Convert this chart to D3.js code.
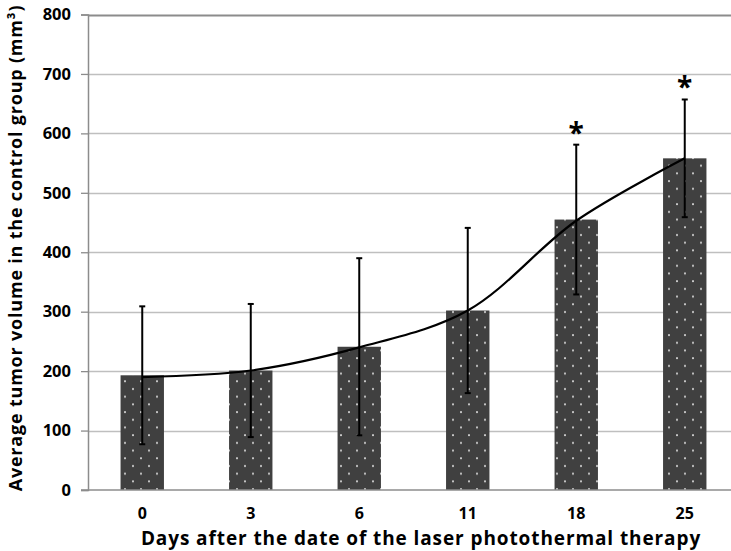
<!DOCTYPE html>
<html>
<head>
<meta charset="utf-8">
<script src="https://cdn.jsdelivr.net/npm/d3@7"></script>
<style>
  body { margin: 0; background: #fff; }
  svg { display: block; font-family: "Open Sans", sans-serif; font-weight: bold; }
</style>
</head>
<body>
<div id="chart"></div>
<script>
const days = ["0", "3", "6", "11", "18", "25"];
const meanVolume = [193, 201, 241, 302, 455, 558];
const trendVolume = [190, 201, 240, 302, 453, 558];
const errorVolume = [116, 112, 149, 139, 126, 99];
const significant = [false, false, false, false, true, true];
const yTicks = [0, 100, 200, 300, 400, 500, 600, 700, 800];

const width = 731, height = 551;
const margin = { top: 14.5, right: -8, bottom: 61, left: 88 };

let svg = d3.select("#chart")
  .append("svg")
  .attr("width", width)
  .attr("height", height);

let defs = svg.append("defs");
let pat = defs.append("pattern")
  .attr("id", "dots")
  .attr("patternUnits", "userSpaceOnUse")
  .attr("width", 16)
  .attr("height", 15.4)
  .attr("x", 129)
  .attr("y", 0);
pat.append("rect").attr("width", 16).attr("height", 15.4).attr("fill", "#404040");
pat.append("circle").attr("cx", 4).attr("cy", 4).attr("r", 1).attr("fill", "#d8d8d8");
pat.append("circle").attr("cx", 12).attr("cy", 11.7).attr("r", 1).attr("fill", "#d8d8d8");

let x = d3.scaleBand()
  .domain(days)
  .range([margin.left, width - margin.right])
  .paddingInner(0.6)
  .paddingOuter(0.3);

let y = d3.scaleLinear()
  .domain([0, 800])
  .range([height - margin.bottom, margin.top]);

// gridlines
svg.append("g")
  .selectAll("line")
  .data(yTicks.filter(d => d > 0))
  .enter()
  .append("line")
  .attr("x1", margin.left)
  .attr("x2", width)
  .attr("y1", d => Math.round(y(d)) + 0.5)
  .attr("y2", d => Math.round(y(d)) + 0.5)
  .attr("stroke", d => d === 800 ? "#8c8c8c" : "#bfbfbf")
  .attr("stroke-width", d => d === 800 ? 2 : 1.3);

// y axis
let yAxis = svg.append("g")
  .attr("transform", `translate(${margin.left},0)`)
  .call(d3.axisLeft(y).tickValues(yTicks).tickSize(7).tickPadding(10));
yAxis.select(".domain").attr("stroke", "#8c8c8c").attr("stroke-width", 1.5);
yAxis.selectAll(".tick line").attr("stroke", "#8c8c8c").attr("stroke-width", 1.3);
yAxis.selectAll(".tick text")
  .attr("fill", "#000")
  .style("font-size", "16.5px")
  .style("font-weight", "bold")
  .style("font-family", "'Open Sans', sans-serif");

// bars
svg.append("g")
  .selectAll("rect")
  .data(meanVolume)
  .enter()
  .append("rect")
  .attr("x", (d, i) => x(days[i]))
  .attr("y", d => y(d))
  .attr("width", x.bandwidth())
  .attr("height", d => y(0) - y(d))
  .attr("fill", "url(#dots)");

// x axis line
svg.append("line")
  .attr("x1", margin.left - 7)
  .attr("x2", width)
  .attr("y1", y(0))
  .attr("y2", y(0))
  .attr("stroke", "#8c8c8c")
  .attr("stroke-width", 1.5);

// x tick labels
svg.append("g")
  .selectAll("text")
  .data(days)
  .enter()
  .append("text")
  .attr("x", d => x(d) + x.bandwidth() / 2)
  .attr("y", 519)
  .attr("text-anchor", "middle")
  .style("font-size", "16px")
  .text(d => d);

// trend line
let line = d3.line()
  .x((d, i) => x(days[i]) + x.bandwidth() / 2)
  .y(d => y(d))
  .curve(d3.curveCatmullRom.alpha(0.5));

svg.append("path")
  .datum(trendVolume)
  .attr("d", line)
  .attr("fill", "none")
  .attr("stroke", "#000")
  .attr("stroke-width", 2.2);

// error bars
let err = svg.append("g").attr("stroke", "#000").attr("stroke-width", 2);
meanVolume.forEach(function(m, i) {
  let cx = x(days[i]) + x.bandwidth() / 2;
  let e = errorVolume[i];
  err.append("line").attr("x1", cx).attr("x2", cx).attr("y1", y(m + e)).attr("y2", y(m - e));
  err.append("line").attr("x1", cx - 3).attr("x2", cx + 3).attr("y1", y(m + e)).attr("y2", y(m + e));
  err.append("line").attr("x1", cx - 3).attr("x2", cx + 3).attr("y1", y(m - e)).attr("y2", y(m - e));
});

// significance marks
meanVolume.forEach(function(m, i) {
  if (!significant[i]) return;
  svg.append("text")
    .attr("x", x(days[i]) + x.bandwidth() / 2)
    .attr("y", y(m + errorVolume[i]) - 2)
    .attr("text-anchor", "middle")
    .style("font-size", "28px")
    .text("*");
});

// axis titles
svg.append("text")
  .attr("x", 421)
  .attr("y", 545)
  .attr("text-anchor", "middle")
  .style("font-size", "19px")
  .style("letter-spacing", "0.9px")
  .text("Days after the date of the laser photothermal therapy");

svg.append("text")
  .attr("transform", "translate(22,248) rotate(-90)")
  .attr("text-anchor", "middle")
  .style("font-size", "18px")
  .style("letter-spacing", "0.8px")
  .text("Average tumor volume in the control group (mm³)");
</script>
</body>
</html>
